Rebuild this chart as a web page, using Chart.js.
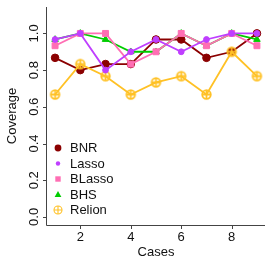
<!DOCTYPE html>
<html><head><meta charset="utf-8">
<script src="https://cdn.jsdelivr.net/npm/chart.js@4/dist/chart.umd.min.js"></script>
<style>html,body{margin:0;padding:0;background:#fff;overflow:hidden}</style>
</head><body>
<canvas id="c" width="273" height="273" style="width:273px;height:273px;display:block"></canvas>
<script>
const cases = [1, 2, 3, 4, 5, 6, 7, 8, 9];
const bnr    = [0.867, 0.800, 0.833, 0.833, 0.967, 0.967, 0.867, 0.900, 1.000];
const lasso  = [0.967, 1.000, 0.800, 0.900, 0.967, 0.900, 0.967, 1.000, 1.000];
const blasso = [0.933, 1.000, 1.000, 0.833, 0.900, 1.000, 0.933, 1.000, 0.933];
const bhs    = [0.967, 1.000, 0.967, 0.900, 0.900, 1.000, 0.933, 1.000, 0.967];
const relion = [0.667, 0.833, 0.767, 0.667, 0.733, 0.767, 0.667, 0.900, 0.767];
const seriesNames = ["BNR", "Lasso", "BLasso", "BHS", "Relion"];
const xTicks = [2, 4, 6, 8];
const xTickLabels = ["2", "4", "6", "8"];
const yTicks = [0, 0.2, 0.4, 0.6, 0.8, 1.0];
const yTickLabels = ["0.0", "0.2", "0.4", "0.6", "0.8", "1.0"];
const xTitle = "Cases";
const yTitle = "Coverage";

const colors = {BNR:"#8B0000", Lasso:"#BF3EFF", BLasso:"#FF6EB4", BHS:"#00CD00", Relion:"#FFC125"};
const FONT = '13px "Liberation Sans", Arial, sans-serif';

function crossCircle(r, lw, color) {
  const s = Math.ceil(2 * r + lw + 2);
  const cv = document.createElement('canvas');
  cv.width = s; cv.height = s;
  const g = cv.getContext('2d');
  const c = s / 2;
  g.strokeStyle = color; g.lineWidth = lw;
  g.beginPath(); g.arc(c, c, r, 0, Math.PI * 2); g.stroke();
  g.beginPath(); g.moveTo(c - r, c); g.lineTo(c + r, c); g.moveTo(c, c - r); g.lineTo(c, c + r); g.stroke();
  return cv;
}
const relionPt = crossCircle(4.3, 1.8, colors.Relion);
const relionLeg = crossCircle(4.0, 1.1, colors.Relion);

function pts(arr) { return cases.map((c, i) => ({x: c, y: arr[i]})); }

const datasets = [
  {label:"BNR", data:pts(bnr), borderColor:colors.BNR, backgroundColor:colors.BNR, pointStyle:'circle', pointRadius:3.8, order:4},
  {label:"Lasso", data:pts(lasso), borderColor:colors.Lasso, backgroundColor:colors.Lasso, pointStyle:'circle', pointRadius:2.9, order:0},
  {label:"BLasso", data:pts(blasso), borderColor:colors.BLasso, backgroundColor:colors.BLasso, pointStyle:'rect', pointRadius:4.2, order:2},
  {label:"BHS", data:pts(bhs), borderColor:colors.BHS, backgroundColor:colors.BHS, pointStyle:'triangle', pointRadius:3.8, order:3},
  {label:"Relion", data:pts(relion), borderColor:colors.Relion, backgroundColor:colors.Relion, pointStyle:relionPt, pointRadius:5, order:1}
].map(d => Object.assign(d, {borderWidth:1.8, pointBorderWidth:1, tension:0, fill:false, clip:false}));

const axesPlugin = {
  id: 'rAxes',
  afterDraw(chart) {
    const ctx = chart.ctx, a = chart.chartArea;
    const xs = chart.scales.x, ys = chart.scales.y;
    ctx.save();
    ctx.strokeStyle = '#444'; ctx.lineWidth = 1;
    ctx.beginPath();
    ctx.moveTo(a.left - 0.5, a.top); ctx.lineTo(a.left - 0.5, a.bottom + 0.5);
    ctx.lineTo(a.right, a.bottom + 0.5);
    ctx.stroke();
    ctx.fillStyle = '#111'; ctx.font = FONT;
    // x ticks
    ctx.beginPath();
    xTicks.forEach(v => { const px = Math.round(xs.getPixelForValue(v)) + 0.5; ctx.moveTo(px, a.bottom); ctx.lineTo(px, a.bottom + 4); });
    yTicks.forEach(v => { const py = Math.round(ys.getPixelForValue(v)) + 0.5; ctx.moveTo(a.left - 4, py); ctx.lineTo(a.left, py); });
    ctx.stroke();
    ctx.textAlign = 'center'; ctx.textBaseline = 'middle';
    xTicks.forEach((v, i) => ctx.fillText(xTickLabels[i], xs.getPixelForValue(v), a.bottom + 12));
    yTicks.forEach((v, i) => {
      ctx.save(); ctx.translate(a.left - 13, ys.getPixelForValue(v)); ctx.rotate(-Math.PI / 2);
      ctx.fillText(yTickLabels[i], 0, 0); ctx.restore();
    });
    ctx.fillText(xTitle, (a.left + a.right) / 2, a.bottom + 27);
    ctx.save(); ctx.translate(12, (a.top + a.bottom) / 2); ctx.rotate(-Math.PI / 2);
    ctx.fillText(yTitle, 0, 0); ctx.restore();
    // legend
    const lx = 58, tx = 70, y0 = 148, dy = 15.5;
    ctx.textAlign = 'left';
    seriesNames.forEach((n, i) => {
      const y = y0 + i * dy;
      ctx.fillStyle = colors[n];
      if (n === 'BNR') { ctx.beginPath(); ctx.arc(lx, y, 3.4, 0, Math.PI * 2); ctx.fill(); }
      else if (n === 'Lasso') { ctx.beginPath(); ctx.arc(lx, y, 2.2, 0, Math.PI * 2); ctx.fill(); }
      else if (n === 'BLasso') { ctx.fillRect(lx - 2.7, y - 2.7, 5.4, 5.4); }
      else if (n === 'BHS') { ctx.beginPath(); ctx.moveTo(lx, y - 3.6); ctx.lineTo(lx + 3.4, y + 2.4); ctx.lineTo(lx - 3.4, y + 2.4); ctx.closePath(); ctx.fill(); }
      else { ctx.drawImage(relionLeg, lx - relionLeg.width / 2, y - relionLeg.height / 2); }
      ctx.fillStyle = '#111';
      ctx.fillText(n, tx, y + 0.5);
    });
    ctx.restore();
  }
};

new Chart(document.getElementById('c'), {
  type: 'line',
  data: { datasets },
  options: {
    responsive: false, animation: false, devicePixelRatio: 1,
    layout: { padding: { left: 47, right: 8, top: 7, bottom: 48 } },
    scales: {
      x: { type: 'linear', min: 0.68, max: 9.32, display: false },
      y: { type: 'linear', min: -0.044, max: 1.144, display: false }
    },
    plugins: { legend: { display: false }, tooltip: { enabled: false } }
  },
  plugins: [axesPlugin]
});
</script>
</body></html>
